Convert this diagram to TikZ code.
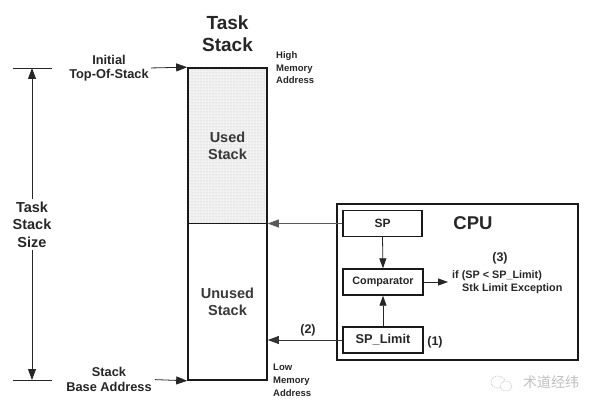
\documentclass[tikz,border=0pt]{standalone}
\usepackage{fontspec}
\setmainfont{Liberation Sans}
\newfontfamily\cjk{Noto Sans CJK SC}
\usetikzlibrary{arrows.meta,patterns}
\begin{document}
\begin{tikzpicture}[x=1pt,y=-1pt,
  txt/.style={font=\bfseries, text=black!85, inner sep=0pt, align=center},
  tip/.style={-{Triangle[length=11pt,width=8pt]}},
  smalltip/.style={-{Triangle[length=10pt,width=7pt]}},
  stackbox/.style={draw=black!90, line width=1.6pt, inner sep=0pt, minimum width=79pt, align=center, text=black!78,
     font=\bfseries\fontsize{14.5}{17}\selectfont},
  regbox/.style={draw=black!90, line width=1.4pt, inner sep=0pt, minimum width=79pt, minimum height=25.5pt,
     text=black!85, font=\bfseries},
  thinline/.style={line width=0.8pt, draw=black!85},
  wmline/.style={draw=gray!45, line width=0.6pt, dash pattern=on 1.2pt off 0.8pt},
]
\useasboundingbox (0,0) rectangle (600,409);

% title
\node[txt, font=\bfseries\fontsize{19}{22.5}\selectfont] (title) at (227.5,33.5) {Task\\Stack};

% stack
\path[fill=gray!10] (188,68) rectangle (267,223.5);
\path[pattern=dots, pattern color=gray!55] (188,68) rectangle (267,223.5);
\node[stackbox, minimum height=155.5pt] (used) at (227.5,145.75) {Used\\Stack};
\node[stackbox, minimum height=156.5pt] (unused) at (227.5,301.75) {Unused\\Stack};

% memory address labels
\node[txt, anchor=west, align=left, font=\bfseries\fontsize{9.5}{12.5}\selectfont] (high) at (276,68) {High\\Memory\\Address};
\node[txt, anchor=west, align=left, font=\bfseries\fontsize{9.5}{12.8}\selectfont] (low) at (273,380) {Low\\Memory\\Address};

% initial top of stack / base address
\node[txt, font=\bfseries\fontsize{12.8}{14.5}\selectfont] (init) at (109,68) {Initial\\Top-Of-Stack};
\node[txt, font=\bfseries\fontsize{12.8}{14.5}\selectfont] (base) at (109,379.5) {Stack\\Base Address};
\draw[tip, thinline, shorten <=2pt] (init.east) -- (used.north west);
\draw[tip, thinline, shorten <=3pt] (base.east) -- (unused.south west);

% task stack size
\coordinate (ttop) at (32,68);
\coordinate (tbot) at (32,380);
\draw[thinline] (13,68) -- (52,68);
\draw[thinline] (13,380) -- (52,380);
\node[txt, font=\bfseries\fontsize{14.5}{17.5}\selectfont] (size) at (32,224.5) {Task\\Stack\\Size};
\draw[tip, thinline, shorten <=2pt] (size.north) -- (ttop);
\draw[tip, thinline, shorten <=2pt] (size.south) -- (tbot);

% CPU
\node[draw=black!90, line width=1.4pt, minimum width=241pt, minimum height=156pt, inner sep=0pt] (cpu) at (457.5,282) {};
\node[txt, font=\bfseries\fontsize{18.5}{20}\selectfont] (cpulabel) at (473,223) {CPU};
\node[regbox, font=\bfseries\fontsize{12}{14}\selectfont] (sp) at (382.5,223.5) {SP};
\node[regbox, minimum width=80pt, minimum height=26pt, font=\bfseries\fontsize{10.8}{13}\selectfont] (comp) at (383,282) {Comparator};
\node[regbox, minimum width=80pt, minimum height=26pt, font=\bfseries\fontsize{12.8}{14}\selectfont] (spl) at (383,340) {SP\_Limit};
\node[txt, font=\bfseries\fontsize{12.5}{14}\selectfont] (one) at (435,342) {(1)};
\node[txt, font=\bfseries\fontsize{12.5}{14}\selectfont] (two) at (308,330) {(2)};
\node[txt, font=\bfseries\fontsize{12.5}{14}\selectfont] (three) at (500,258) {(3)};
\node[txt, anchor=west, font=\bfseries\fontsize{10.8}{13}\selectfont] (cond) at (452,276) {if (SP < SP\_Limit)};
\node[txt, anchor=west, font=\bfseries\fontsize{10.8}{13}\selectfont] (exc) at (462,289) {Stk Limit Exception};

\coordinate (cmpout) at (448,282);
\draw[smalltip, thinline] (sp.south) -- (comp.north);
\draw[smalltip, thinline] (spl.north) -- (comp.south);
\draw[smalltip, thinline] (comp.east) -- (cmpout);
\draw[tip, line width=0.8pt, draw=black!65] (sp.west) -- (sp.west -| unused.east);
\draw[tip, line width=0.8pt, draw=black!80] (spl.west) -- (spl.west -| unused.east);

% watermark
\draw[wmline] (498,382) ellipse [x radius=7pt, y radius=6pt];
\draw[wmline, fill=white] (506,386) ellipse [x radius=6pt, y radius=5pt];
\node[text=gray!50, inner sep=0pt, font=\cjk\fontsize{14}{14}\selectfont] (wm) at (551,382) {术道经纬};
\end{tikzpicture}
\end{document}
